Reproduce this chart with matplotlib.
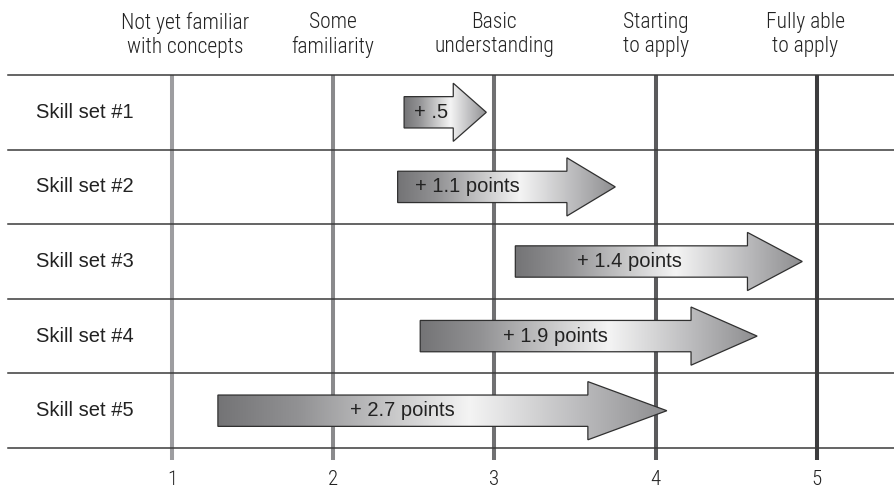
import matplotlib
matplotlib.use("Agg")
import matplotlib.pyplot as plt
import numpy as np
from matplotlib.patches import Polygon
from matplotlib.colors import LinearSegmentedColormap

# levels along the top, numbered 1..5
levels = [1, 2, 3, 4, 5]
level_names = ["Not yet familiar\nwith concepts", "Some\nfamiliarity", "Basic\nunderstanding",
               "Starting\nto apply", "Fully able\nto apply"]
header_x = [1.08, 2.0, 3.0, 4.0, 4.93]
line_colors = ["#9d9da0", "#8a8a8c", "#707072", "#5a5a5c", "#3c3c3e"]

skills = ["Skill set #1", "Skill set #2", "Skill set #3", "Skill set #4", "Skill set #5"]
start = [2.44, 2.40, 3.13, 2.54, 1.285]      # where the arrow begins
end = [2.95, 3.75, 4.91, 4.63, 4.07]         # arrow tip
gain_labels = ["+ .5", "+ 1.1 points", "+ 1.4 points", "+ 1.9 points", "+ 2.7 points"]
label_x = [2.61, 2.83, 3.84, 3.38, 2.43]
head_len = [0.205, 0.30, 0.34, 0.41, 0.49]

body_h = 0.21   # half height of the arrow body, in rows
head_h = 0.39   # half height of the arrow head

narrow = ["Roboto Condensed", "Archivo Narrow", "Liberation Sans"]

grad = LinearSegmentedColormap.from_list("arrow", [
    (0.0, "#747476"), (0.18, "#929294"), (0.56, "#f4f4f4"),
    (0.8, "#bdbdbf"), (1.0, "#8e8e90")])

fig = plt.figure(figsize=(8.94, 4.90), dpi=100)
ax = fig.add_axes([8 / 894, 42 / 490, 886 / 894, 373 / 490])
ax.set_xlim(-0.017, 5.479)
ax.set_ylim(len(skills), 0)
for s in ax.spines.values():
    s.set_visible(False)
ax.set_yticks([])

# vertical level lines (extend a bit below the table)
for lv, c in zip(levels, line_colors):
    ax.vlines(lv, 0, len(skills) + 0.16, color=c, lw=2.9, zorder=1, clip_on=False)

# horizontal row separators
for i in range(len(skills) + 1):
    ax.axhline(i, color="#3a3a3a", lw=1.1, zorder=2, clip_on=False)

# headers
for x, name in zip(header_x, level_names):
    ax.text(x, -0.54, name, ha="center", va="center", fontsize=15.5, linespacing=1.2,
            color="#222222", family=narrow, fontweight="light", clip_on=False)

# skill labels
for i, sk in enumerate(skills):
    ax.text(0.46, i + 0.5, sk, ha="center", va="center", fontsize=14.5,
            color="#222222", family="Liberation Sans")

# arrows with gradient fill
g = np.linspace(0, 1, 256).reshape(1, -1)
for i in range(len(skills)):
    yc = i + 0.5
    x0, x1 = start[i], end[i]
    xb = x1 - head_len[i]
    pts = [(x0, yc - body_h), (xb, yc - body_h), (xb, yc - head_h), (x1, yc),
           (xb, yc + head_h), (xb, yc + body_h), (x0, yc + body_h)]
    poly = Polygon(pts, closed=True, facecolor="none", edgecolor="#303030", lw=0.9, zorder=4)
    ax.add_patch(poly)
    im = ax.imshow(g, extent=[x0, x1, yc + head_h, yc - head_h], aspect="auto",
                   cmap=grad, zorder=3, interpolation="bilinear")
    im.set_clip_path(poly)
    ax.text(label_x[i], yc, gain_labels[i], ha="center", va="center", fontsize=14.5,
            color="#222222", family="Liberation Sans", zorder=5)

ax.set_xlim(-0.017, 5.479)
ax.set_ylim(len(skills), 0)

ax.set_xticks(levels)
ax.set_xticklabels([str(v) for v in levels], family=narrow, fontweight="light",
                   fontsize=15, color="#222222")
ax.tick_params(axis="x", length=0, pad=16)

fig.savefig("out.png", dpi=100)
